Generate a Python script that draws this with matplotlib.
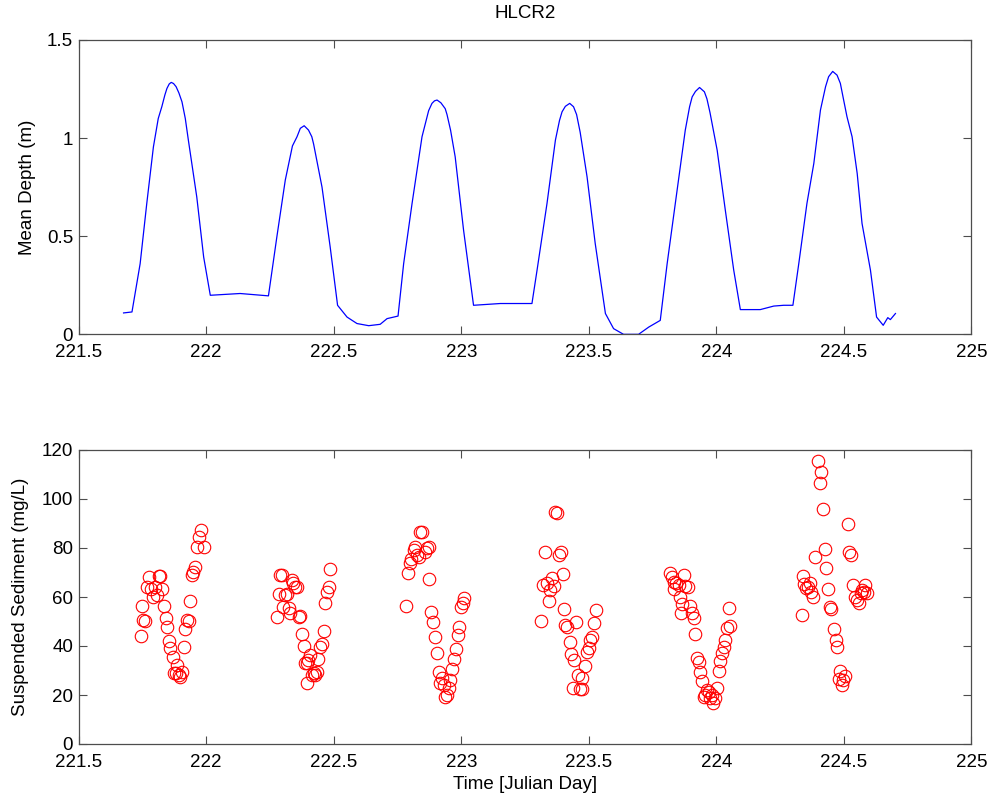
import numpy as np
import matplotlib.pyplot as plt

plt.rcParams['font.family'] = ['Liberation Sans', 'DejaVu Sans']

# mean depth trace
depth_day = [
    221.676, 221.709, 221.741, 221.767, 221.793, 221.812, 221.826, 221.838, 221.846, 221.855,
    221.863, 221.872, 221.882, 221.893, 221.905, 221.918,
    221.93, 221.963, 221.99, 222.016, 222.133, 222.244,
    222.277, 222.31, 222.338, 222.356, 222.369, 222.384, 222.401, 222.414, 222.421, 222.454,
    222.486, 222.515,
    222.552, 222.591, 222.637, 222.682, 222.709, 222.752,
    222.774, 222.807, 222.846, 222.872, 222.885, 222.895, 222.905, 222.92, 222.937, 222.944,
    222.958, 222.976, 223.009, 223.048,
    223.153, 223.277,
    223.297, 223.336, 223.369, 223.385, 223.395, 223.408, 223.425, 223.44, 223.452, 223.466,
    223.493, 223.525, 223.565,
    223.597, 223.636, 223.695, 223.735, 223.78,
    223.807, 223.839, 223.878, 223.895, 223.905, 223.918, 223.934, 223.953, 223.963, 223.975,
    224.003, 224.035, 224.068, 224.094,
    224.172, 224.225, 224.264, 224.3,
    224.323, 224.355, 224.382, 224.408, 224.428, 224.44, 224.456, 224.473, 224.486, 224.498,
    224.512, 224.532, 224.552,
    224.571, 224.604, 224.628, 224.654, 224.672, 224.682, 224.702,
]
depth = [
    0.109, 0.114, 0.36, 0.667, 0.955, 1.10, 1.16, 1.22, 1.253, 1.276,
    1.284, 1.278, 1.262, 1.23, 1.185, 1.10,
    0.99, 0.70, 0.394, 0.199, 0.208, 0.196,
    0.497, 0.786, 0.96, 1.007, 1.05, 1.063, 1.041, 1.007, 0.97, 0.75,
    0.445, 0.148,
    0.088, 0.055, 0.044, 0.051, 0.08, 0.093,
    0.36, 0.667, 1.007, 1.14, 1.177, 1.19, 1.194, 1.18, 1.15, 1.12,
    1.04, 0.905, 0.53, 0.148,
    0.157, 0.157,
    0.327, 0.667, 0.99, 1.09, 1.134, 1.162, 1.177, 1.16, 1.12, 1.03,
    0.803, 0.463, 0.106,
    0.029, 0.0, 0.0, 0.037, 0.071,
    0.36, 0.667, 1.04, 1.16, 1.21, 1.238, 1.258, 1.236, 1.2, 1.13,
    0.939, 0.633, 0.327, 0.126,
    0.126, 0.144, 0.148, 0.148,
    0.36, 0.667, 0.871, 1.143, 1.262, 1.313, 1.34, 1.321, 1.279, 1.2,
    1.109, 1.007, 0.82,
    0.565, 0.327, 0.088, 0.046, 0.085, 0.075, 0.106,
]

# suspended sediment samples
ssc_day = [
    221.744, 221.75, 221.754, 221.761, 221.767, 221.776, 221.783, 221.793, 221.8, 221.807,
    221.813, 221.82, 221.826, 221.833, 221.842, 221.848, 221.855, 221.859, 221.869, 221.874,
    221.882, 221.887, 221.894, 221.898, 221.905, 221.911, 221.918, 221.924, 221.931, 221.937,
    221.944, 221.95, 221.957, 221.964, 221.97, 221.98, 221.99,
    222.277, 222.284, 222.29, 222.297, 222.3, 222.31, 222.316, 222.323, 222.329, 222.336,
    222.342, 222.349, 222.356, 222.362, 222.369, 222.375, 222.382, 222.388, 222.395, 222.397,
    222.401, 222.408, 222.414, 222.421, 222.427, 222.434, 222.44, 222.447, 222.454, 222.46,
    222.467, 222.473, 222.48, 222.486,
    222.784, 222.791, 222.797, 222.804, 222.813, 222.82, 222.826, 222.833, 222.839, 222.846,
    222.859, 222.866, 222.872, 222.875, 222.881, 222.889, 222.895, 222.905, 222.911, 222.918,
    222.924, 222.931, 222.937, 222.944, 222.95, 222.957, 222.964, 222.97, 222.979, 222.986,
    222.992, 222.999, 223.005, 223.012,
    223.313, 223.319, 223.327, 223.336, 223.342, 223.349, 223.356, 223.362, 223.369, 223.375,
    223.384, 223.391, 223.397, 223.401, 223.408, 223.414, 223.425, 223.43, 223.44, 223.451,
    223.438, 223.456, 223.464, 223.472, 223.475, 223.486, 223.493, 223.499, 223.506, 223.513,
    223.519, 223.528,
    223.82, 223.826, 223.833, 223.835, 223.843, 223.852, 223.859, 223.865, 223.861, 223.875,
    223.878, 223.887, 223.898, 223.905, 223.911, 223.918, 223.924, 223.931, 223.937, 223.944,
    223.95, 223.957, 223.964, 223.97, 223.976, 223.983, 223.987, 223.996, 224.003, 224.009,
    224.016, 224.022, 224.029, 224.035, 224.042, 224.048, 224.055,
    224.336, 224.34, 224.345, 224.352, 224.358, 224.366, 224.371, 224.379, 224.388, 224.397,
    224.411, 224.405, 224.418, 224.424, 224.43, 224.438, 224.444, 224.451, 224.46, 224.467,
    224.473, 224.486, 224.48, 224.493, 224.497, 224.503, 224.516, 224.521, 224.528, 224.534,
    224.542, 224.552, 224.558, 224.565, 224.571, 224.578, 224.584, 224.591,
]
ssc = [
    44.1, 56.4, 50.6, 50.3, 64.2, 68.3, 63.4, 60.1, 64.2, 60.8,
    68.7, 68.7, 63.1, 56.4, 51.6, 47.6, 41.9, 39.1, 35.4, 29.1,
    28.8, 32.2, 28.2, 27.2, 29.3, 39.5, 47.1, 50.6, 50.3, 58.5,
    69.0, 70.3, 72.4, 80.3, 84.4, 87.3, 80.3,
    52.0, 61.2, 69.0, 69.0, 56.0, 60.8, 61.2, 55.4, 53.3, 66.9,
    65.8, 64.2, 64.2, 52.0, 52.4, 44.8, 40.1, 33.2, 32.9, 24.8,
    34.3, 36.3, 28.2, 28.8, 28.2, 29.3, 34.6, 39.7, 40.7, 46.1,
    57.4, 61.9, 64.0, 71.4,
    56.4, 69.9, 74.0, 75.4, 79.2, 80.5, 77.1, 76.5, 86.7, 86.7,
    78.5, 79.9, 80.5, 67.2, 54.0, 49.9, 43.5, 37.0, 29.3, 24.8,
    26.8, 24.1, 19.3, 20.0, 22.7, 26.1, 30.6, 34.6, 38.8, 44.5,
    47.9, 56.0, 57.4, 59.5,
    50.3, 64.9, 78.2, 65.6, 58.4, 62.9, 67.6, 64.5, 94.8, 94.4,
    77.1, 78.5, 69.3, 55.1, 48.6, 47.9, 41.8, 36.7, 34.3, 49.9,
    22.7, 28.2, 22.3, 22.3, 26.8, 32.0, 37.7, 39.1, 42.4, 43.8,
    49.5, 54.7,
    69.7, 68.3, 66.3, 63.1, 65.6, 64.9, 60.1, 57.0, 53.3, 69.0,
    64.6, 64.2, 56.4, 53.3, 51.3, 44.9, 35.0, 33.6, 29.5, 25.8,
    19.3, 20.0, 22.0, 21.3, 18.7, 20.0, 16.6, 18.9, 22.7, 29.9,
    33.9, 37.0, 39.7, 42.4, 47.2, 55.6, 48.2,
    52.7, 68.6, 65.3, 63.5, 64.2, 65.6, 62.2, 60.1, 76.5, 115.6,
    111.2, 106.4, 95.9, 79.6, 72.0, 63.3, 56.0, 55.1, 46.8, 42.4,
    39.7, 29.8, 26.4, 24.1, 26.1, 27.8, 89.7, 78.5, 77.1, 64.9,
    60.1, 58.8, 57.4, 61.5, 62.9, 62.2, 64.9, 61.5,
]

x_ticks = [221.5, 222, 222.5, 223, 223.5, 224, 224.5, 225]
x_labels = ['221.5', '222', '222.5', '223', '223.5', '224', '224.5', '225']


def matlab_style(ax):
    for s in ax.spines.values():
        s.set_color('0.3')
        s.set_linewidth(0.9)
    ax.tick_params(direction='in', length=6, width=0.8, color='0.3',
                   top=True, right=True, labelsize=13.5, pad=4)
    ax.tick_params(axis='x', pad=7)
    ax.set_xlim(221.5, 225)
    ax.set_xticks(x_ticks)
    ax.set_xticklabels(x_labels)


fig = plt.figure(figsize=(9.92, 8.0), dpi=100)
ax1 = fig.add_axes([0.0793, 0.5821, 0.9, 0.3679])
ax2 = fig.add_axes([0.0793, 0.07, 0.9, 0.3675])

ax1.plot(depth_day, depth, color='#0000ff', lw=0.9)
matlab_style(ax1)
ax1.set_ylim(0, 1.5)
ax1.set_yticks([0, 0.5, 1, 1.5])
ax1.set_yticklabels(['0', '0.5', '1', '1.5'])
ax1.set_ylabel('Mean Depth (m)', fontsize=13.5, labelpad=8)
ax1.set_title('HLCR2', fontsize=13.5, pad=16)

ax2.plot(ssc_day, ssc, 'o', mfc='none', mec='#ff0000', ms=9, mew=0.8)
matlab_style(ax2)
ax2.set_ylim(0, 120)
ax2.set_yticks(np.arange(0, 121, 20))
ax2.set_ylabel('Suspended Sediment (mg/L)', fontsize=13.5, labelpad=9)
ax2.set_xlabel('Time [Julian Day]', fontsize=13.5, labelpad=4)

fig.savefig('out.png', dpi=100)
